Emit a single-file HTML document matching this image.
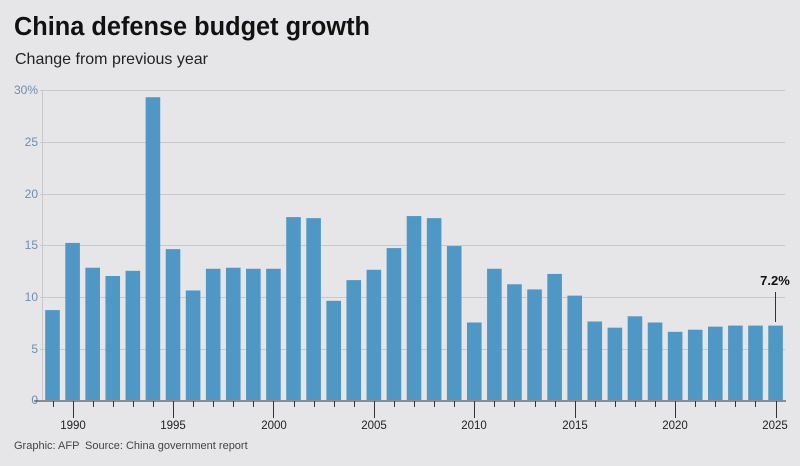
<!DOCTYPE html>
<html><head><meta charset="utf-8"><style>
body{margin:0;background:#e6e6e8;}
svg{display:block;font-family:"Liberation Sans",sans-serif;}
</style></head><body>
<svg width="800" height="466" viewBox="0 0 800 466">
<rect width="800" height="466" fill="#e6e6e8"/>
<text x="14" y="35" font-size="25.5" font-weight="bold" fill="#111" textLength="356" lengthAdjust="spacingAndGlyphs">China defense budget growth</text>
<text x="15" y="64" font-size="16" fill="#222">Change from previous year</text>
<g stroke="#c9c9cd" stroke-width="1">
<line x1="40" y1="90.5" x2="785" y2="90.5"/>
<line x1="40" y1="142.5" x2="785" y2="142.5"/>
<line x1="40" y1="194.5" x2="785" y2="194.5"/>
<line x1="40" y1="245.5" x2="785" y2="245.5"/>
<line x1="40" y1="297.5" x2="785" y2="297.5"/>
<line x1="40" y1="349.5" x2="785" y2="349.5"/>
<line x1="42.5" y1="90" x2="42.5" y2="400"/>
</g>
<g font-size="12" fill="#6a8fb0" text-anchor="end">
<text x="38" y="94">30%</text><text x="38" y="146">25</text><text x="38" y="198">20</text>
<text x="38" y="249">15</text><text x="38" y="301">10</text><text x="38" y="353">5</text><text x="38" y="404">0</text>
</g>
<g id="bars" fill="#4f97c4"></g>
<line x1="34" y1="401" x2="786" y2="401" stroke="#333" stroke-width="1"/>
<g id="ticks" stroke="#333" stroke-width="1"></g>
<g font-size="11.5" fill="#222" text-anchor="middle">
<text x="73" y="429">1990</text><text x="173" y="429">1995</text><text x="274" y="429">2000</text>
<text x="374" y="429">2005</text><text x="474" y="429">2010</text><text x="575" y="429">2015</text>
<text x="675" y="429">2020</text><text x="775" y="429">2025</text>
</g>
<text x="775" y="285" font-size="13" font-weight="bold" fill="#111" text-anchor="middle">7.2%</text>
<line x1="775.5" y1="292" x2="775.5" y2="322" stroke="#333"/>
<text x="14" y="449" font-size="11" fill="#444">Graphic: AFP</text>
<text x="85" y="449" font-size="11" fill="#444">Source: China government report</text>
</svg>
<script>
var v=[8.7,15.2,12.8,12.0,12.5,29.3,14.6,10.6,12.7,12.8,12.7,12.7,17.7,17.6,9.6,11.6,12.6,14.7,17.8,17.6,14.9,7.5,12.7,11.2,10.7,12.2,10.1,7.6,7.0,8.1,7.5,6.6,6.8,7.1,7.2,7.2,7.2];
var b=document.getElementById('bars'),t=document.getElementById('ticks'),ns='http://www.w3.org/2000/svg';
for(var i=0;i<v.length;i++){var c=52.5+i*20.085;var h=v[i]*310/30;
var r=document.createElementNS(ns,'rect');r.setAttribute('x',c-7.3);r.setAttribute('width',14.6);r.setAttribute('y',400-h);r.setAttribute('height',h);b.appendChild(r);
var l=document.createElementNS(ns,'line');var x=Math.round(c)+0.5;l.setAttribute('x1',x);l.setAttribute('x2',x);l.setAttribute('y1',401);l.setAttribute('y2',(i-1)%5==0?418:407);t.appendChild(l);}
</script>
</body></html>
